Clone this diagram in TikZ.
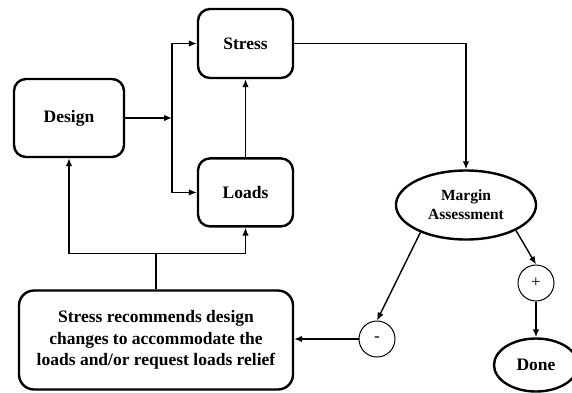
\documentclass[tikz,border=0pt]{standalone}
\usepackage{fontspec}
\setmainfont{Liberation Serif}
\usetikzlibrary{positioning,shapes.geometric,arrows.meta}

\begin{document}
\begin{tikzpicture}[x=1pt, y=-1pt, >={Latex[length=8pt,width=6.5pt]},
                    every node/.style={align=center, font=\bfseries\fontsize{17.5}{21.5}\selectfont},
                    box/.style={draw, line width=2.4pt, rounded corners=12pt},
                    oval/.style={draw, ellipse, line width=2.4pt, inner sep=0pt},
                    sign/.style={draw, circle, line width=1pt, minimum size=36pt, inner sep=0pt,
                                 font=\fontsize{17}{17}\selectfont},
                    every path/.style={line width=1.4pt}]
\useasboundingbox (0,0) rectangle (572,392);
\node[box, minimum width=110pt, minimum height=78pt] (design) at (69,118) {Design};
\node[box, minimum width=95pt, minimum height=69pt] (stress) at (245.5,43.5) {Stress};
\node[box, minimum width=95pt, minimum height=68pt, below=78pt of stress] (loads) {Loads};
\node[box, rounded corners=15pt, minimum width=274pt, minimum height=99pt] (relief) at (156,340)
     {Stress recommends design\\changes to accommodate the\\loads and/or request loads relief};
\node[oval, minimum width=140pt, minimum height=69pt,
      font=\bfseries\fontsize{15.5}{19}\selectfont] (margin) at (466,205) {Margin\\Assessment};
\node[sign] (plus) at (536,283) {+};
\node[sign] (minus) at (377,339) {-};
\node[oval, minimum width=84pt, minimum height=53pt] (done) at (536,365) {Done};
\coordinate (split) at (172,118);
\coordinate[above=36pt of relief.north] (back);
\draw[->] (design) -- (split);
\draw[->] (split) |- (stress);
\draw[->] (split) |- (loads);
\draw[->] (loads) -- (stress);
\draw[->] (stress) -| (margin);
\draw[->] (margin.211) -- (minus.north);
\draw[->] (margin.333) -- (plus.north);
\draw[->] (plus) -- (done);
\draw[->] (minus) -- (minus -| relief.east);
\draw (relief) -- (back);
\draw[->] (back) -| (design);
\draw[->] (back) -| (loads);
\end{tikzpicture}
\end{document}
